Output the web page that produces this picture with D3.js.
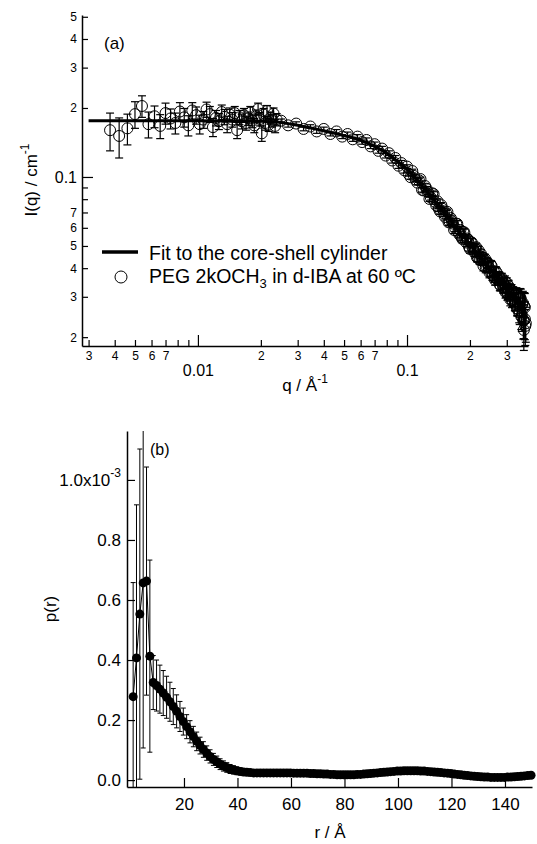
<!DOCTYPE html>
<html>
<head>
<meta charset="utf-8">
<script src="https://cdn.jsdelivr.net/npm/d3@7"></script>
<style>
  body { margin: 0; background: #fff; }
  svg { display: block; }
</style>
</head>
<body>
<svg id="chart" width="537" height="844"></svg>
<script>
// ---- panel (a): SANS curve, detector ranges + fit ----
const lowQ = [0.0038,0.0042,0.0046,0.0050,0.0054,0.0058,0.0062,0.0066,0.0070,0.0074,
  0.0078,0.0082,0.0086,0.0090,0.0094,0.0098,0.0102,0.0106,0.0110,0.0114,
  0.0118,0.0122,0.0126,0.0130,0.0134,0.0138,0.0142,0.0146,0.0150,0.0154,
  0.0158,0.0162,0.0166,0.0170,0.0174,0.0178,0.0182,0.0186,0.0190,0.0194,
  0.0198,0.0202,0.0206,0.0210,0.0214,0.0218,0.0222,0.0226,0.0230,0.0234,0.0238];
const lowI = [0.160,0.151,0.163,0.188,0.204,0.170,0.184,0.167,0.190,0.180,
  0.172,0.193,0.182,0.168,0.195,0.186,0.170,0.178,0.197,0.188,
  0.165,0.181,0.175,0.192,0.183,0.170,0.187,0.178,0.190,0.160,
  0.182,0.175,0.186,0.172,0.180,0.191,0.176,0.168,0.184,0.198,
  0.179,0.155,0.187,0.172,0.194,0.169,0.181,0.176,0.189,0.167,0.178];
const lowErr = [0.030,0.030,0.025,0.025,0.022,0.022,0.020,0.020,0.020,0.018,
  0.018,0.018,0.017,0.017,0.016,0.016,0.016,0.015,0.015,0.015,
  0.015,0.014,0.014,0.014,0.014,0.014,0.013,0.013,0.013,0.013,
  0.013,0.013,0.013,0.012,0.012,0.012,0.012,0.012,0.012,0.012,
  0.012,0.012,0.012,0.012,0.011,0.011,0.011,0.011,0.011,0.011,0.011];

const midQ = [0.025,0.027,0.0295,0.032,0.0345,0.037,0.040,0.043,0.046,0.049,
  0.052,0.055,0.058,0.061,0.064,0.067,0.070,0.073,0.076,0.079,
  0.082,0.085,0.088,0.091,0.094,0.097];
const midI = [0.176,0.168,0.171,0.162,0.166,0.158,0.162,0.154,0.158,0.150,
  0.154,0.146,0.150,0.142,0.145,0.136,0.139,0.130,0.133,0.124,
  0.127,0.118,0.121,0.112,0.115,0.107];
const midErr = [0.003,0.003,0.003,0.003,0.003,0.003,0.003,0.003,0.003,0.003,
  0.003,0.003,0.003,0.003,0.003,0.003,0.003,0.003,0.003,0.003,
  0.003,0.003,0.003,0.003,0.003,0.003];

const highQ = [0.100,0.104,0.108,0.112,0.116,0.120,0.124,0.128,0.132,0.136,
  0.140,0.144,0.148,0.152,0.156,0.160,0.164,0.168,0.172,0.176,
  0.180,0.184,0.188,0.192,0.196,0.200,0.204,0.208,0.212,0.216,
  0.220,0.224,0.228,0.232,0.236,0.240,0.244,0.248,0.252,0.256,
  0.260,0.264,0.268,0.272,0.276,0.280,0.284,0.288,0.292,0.296,
  0.300,0.304,0.308,0.312,0.316,0.320,0.324,0.328,0.332,0.336,
  0.340,0.344,0.348,0.352,0.356,0.360,0.364,0.368,0.362,0.366,0.370];
const highI = [0.111,0.0998,0.101,0.0945,0.0979,0.0873,0.0889,0.0802,0.0849,0.0780,
  0.0783,0.0707,0.0726,0.0669,0.0704,0.0637,0.0640,0.0587,0.0626,0.0574,
  0.0587,0.0536,0.0573,0.0518,0.0532,0.0485,0.0518,0.0481,0.0488,0.0446,
  0.0478,0.0434,0.0448,0.0409,0.0440,0.0407,0.0419,0.0383,0.0412,0.0374,
  0.0388,0.0355,0.0383,0.0355,0.0367,0.0336,0.0362,0.0330,0.0342,0.0314,
  0.0345,0.0310,0.0324,0.0292,0.0321,0.0290,0.0310,0.0279,0.0310,0.0266,
  0.0299,0.0256,0.0296,0.0246,0.0279,0.0236,0.0273,0.0224,0.0215,0.0240,0.0230];
const highErr = [0.002,0.002,0.002,0.002,0.002,0.002,0.002,0.002,0.002,0.002,
  0.002,0.002,0.002,0.002,0.002,0.002,0.002,0.002,0.002,0.002,
  0.002,0.002,0.002,0.002,0.002,0.002,0.002,0.002,0.002,0.002,
  0.002,0.002,0.002,0.002,0.002,0.002,0.002,0.002,0.002,0.002,
  0.0018,0.0018,0.0018,0.0018,0.0018,0.0018,0.0018,0.0018,0.0018,0.0018,
  0.0018,0.0018,0.0018,0.0018,0.0018,0.0018,0.0018,0.0018,0.0018,0.0018,
  0.002,0.0025,0.003,0.003,0.0035,0.004,0.004,0.004,0.004,0.0045,0.004];

// interleaved high-q points (second frame)
const highQ2 = [0.102,0.106,0.110,0.114,0.118,0.122,0.126,0.130,0.134,0.138,
  0.142,0.146,0.150,0.154,0.158,0.162,0.166,0.170,0.174,0.178,
  0.182,0.186,0.190,0.194,0.198,0.202,0.206,0.210,0.214,0.218,
  0.222,0.226,0.230,0.234,0.238,0.242,0.246,0.250,0.254,0.258,
  0.262,0.266,0.270,0.274,0.278,0.282,0.286,0.290,0.294,0.298,
  0.302,0.306,0.310,0.314,0.318,0.322,0.326,0.330,0.334,0.338,
  0.342,0.346,0.350,0.354,0.358,0.362,0.366];
const highI2 = [0.1028,0.1061,0.0972,0.0967,0.0879,0.0913,0.0858,0.0813,0.0842,0.0751,
  0.0726,0.0753,0.0694,0.0694,0.0634,0.0661,0.0626,0.0598,0.0624,0.0561,
  0.0547,0.0574,0.0535,0.0539,0.0495,0.0519,0.0492,0.0470,0.0494,0.0446,
  0.0437,0.0461,0.0431,0.0436,0.0402,0.0423,0.0403,0.0388,0.0408,0.0372,
  0.0366,0.0386,0.0361,0.0366,0.0339,0.0358,0.0343,0.0331,0.0350,0.0318,
  0.0310,0.0334,0.0307,0.0318,0.0289,0.0312,0.0293,0.0280,0.0308,0.0267,
  0.0297,0.0257,0.0294,0.0247,0.0282,0.0237,0.0270];
const highErr2 = [0.002,0.002,0.002,0.002,0.002,0.002,0.002,0.002,0.002,0.002,
  0.002,0.002,0.002,0.002,0.002,0.002,0.002,0.002,0.002,0.002,
  0.002,0.002,0.002,0.002,0.002,0.002,0.002,0.002,0.002,0.002,
  0.002,0.002,0.002,0.002,0.002,0.002,0.002,0.002,0.002,0.002,
  0.002,0.002,0.002,0.002,0.002,0.002,0.002,0.002,0.002,0.002,
  0.002,0.002,0.002,0.002,0.002,0.002,0.002,0.002,0.002,0.002,
  0.0025,0.003,0.003,0.0035,0.0035,0.004,0.004];

const fitQ = [0.003,0.01,0.02,0.025,0.03,0.04,0.05,0.06,0.07,0.08,0.09,0.10,
  0.12,0.14,0.16,0.18,0.20,0.22,0.25,0.28,0.31,0.34,0.37];
const fitI = [0.176,0.176,0.175,0.173,0.168,0.159,0.1515,0.1445,0.136,0.127,0.117,0.108,
  0.090,0.076,0.065,0.057,0.051,0.0455,0.0395,0.035,0.0313,0.0282,0.0253];

const qTicks = [0.003,0.004,0.005,0.006,0.007,0.008,0.009,0.01,0.02,0.03,0.04,0.05,0.06,0.07,0.08,0.09,0.1,0.2,0.3];
const qTickLabels = ["3","4","5","6","7","","","0.01","2","3","4","5","6","7","","","0.1","2","3"];
const qMajor = [0.01, 0.1];
const iTicks = [0.02,0.03,0.04,0.05,0.06,0.07,0.08,0.09,0.1,0.2,0.3,0.4,0.5];
const iTickLabels = ["2","3","4","5","6","7","","","0.1","2","3","4","5"];
const iMajor = [0.1];

// ---- panel (b): pair distance distribution ----
const rVals = [1.0,2.25,3.5,4.75,6.0,7.25,8.5,9.75,11.0,12.25,
  13.5,14.75,16.0,17.25,18.5,19.75,21.0,22.25,23.5,24.75,
  26.0,27.25,28.5,29.75,31.0,32.25,33.5,34.75,36.0,37.25,
  38.5,39.75,41.0,42.25,43.5,44.75,46.0,47.25,48.5,49.75,
  51.0,52.25,53.5,54.75,56.0,57.25,58.5,59.75,61.0,62.25,
  63.5,64.75,66.0,67.25,68.5,69.75,71.0,72.25,73.5,74.75,
  76.0,77.25,78.5,79.75,81.0,82.25,83.5,84.75,86.0,87.25,
  88.5,89.75,91.0,92.25,93.5,94.75,96.0,97.25,98.5,99.75,
  101.0,102.25,103.5,104.75,106.0,107.25,108.5,109.75,111.0,112.25,
  113.5,114.75,116.0,117.25,118.5,119.75,121.0,122.25,123.5,124.75,
  126.0,127.25,128.5,129.75,131.0,132.25,133.5,134.75,136.0,137.25,
  138.5,139.75,141.0,142.25,143.5,144.75,146.0,147.25,148.5,149.75];
// p(r) in units of 1e-3
const pVals = [0.278,0.407,0.553,0.657,0.663,0.413,0.325,0.315,0.303,0.290,
  0.276,0.261,0.245,0.229,0.212,0.195,0.178,0.161,0.145,0.129,
  0.115,0.102,0.090,0.079,0.069,0.061,0.053,0.047,0.042,0.037,
  0.034,0.031,0.029,0.027,0.026,0.025,0.024,0.024,0.024,0.024,
  0.024,0.024,0.024,0.024,0.024,0.024,0.024,0.024,0.023,0.023,
  0.023,0.023,0.023,0.022,0.022,0.021,0.021,0.020,0.020,0.019,
  0.019,0.018,0.018,0.018,0.018,0.018,0.018,0.019,0.019,0.020,
  0.021,0.022,0.023,0.024,0.025,0.026,0.027,0.028,0.029,0.030,
  0.030,0.031,0.031,0.031,0.031,0.031,0.030,0.030,0.029,0.028,
  0.027,0.026,0.025,0.024,0.023,0.022,0.020,0.019,0.018,0.016,
  0.015,0.014,0.013,0.012,0.011,0.010,0.010,0.009,0.009,0.009,
  0.009,0.009,0.010,0.010,0.011,0.012,0.013,0.014,0.015,0.016];
const pErr = [0.38,0.51,0.55,0.55,0.38,0.32,0.09,0.085,0.08,0.075,
  0.07,0.065,0.06,0.055,0.05,0.045,0.04,0.037,0.034,0.031,
  0.028,0.026,0.024,0.022,0.02,0.019,0.018,0.017,0.016,0.015,
  0.014,0.013,0.012,0.011,0.010,0.009,0.009,0.008,0.008,0.008,
  0.008,0.008,0.008,0.008,0.008,0.008,0.008,0.008,0.008,0.008,
  0.008,0.008,0.008,0.008,0.008,0.008,0.008,0.008,0.008,0.008,
  0.008,0.008,0.008,0.008,0.008,0.008,0.008,0.008,0.008,0.008,
  0.008,0.008,0.008,0.008,0.008,0.008,0.008,0.008,0.008,0.008,
  0.008,0.008,0.008,0.008,0.008,0.008,0.008,0.008,0.008,0.008,
  0.008,0.008,0.008,0.008,0.008,0.008,0.008,0.008,0.008,0.008,
  0.008,0.008,0.008,0.008,0.008,0.008,0.008,0.008,0.008,0.008,
  0.008,0.008,0.008,0.008,0.008,0.008,0.008,0.008,0.008,0.008];
const rTicks = [20,40,60,80,100,120,140];
const pTicks = [0,0.2,0.4,0.6,0.8,1.0];
const pTickLabels = ["0.0","0.2","0.4","0.6","0.8","1.0x10"];

const font = '"Liberation Sans", Arial, Helvetica, sans-serif';
const svg = d3.select("#chart").attr("font-family", font);

// ================= panel (a) =================
const xa = d3.scaleLog().domain([0.00279, 0.379]).range([82, 528]);
const ya = d3.scaleLog().domain([0.0183, 0.509]).range([346, 15]);

const gxa = svg.append("g")
  .attr("transform", "translate(0,346)")
  .call(d3.axisBottom(xa).tickValues(qTicks).tickFormat((d, i) => qTickLabels[i])
    .tickSizeInner(-6).tickSizeOuter(0).tickPadding(5));
const gya = svg.append("g")
  .attr("transform", "translate(82,0)")
  .call(d3.axisLeft(ya).tickValues(iTicks).tickFormat((d, i) => iTickLabels[i])
    .tickSizeInner(-6).tickSizeOuter(0).tickPadding(5));

[gxa, gya].forEach(g => {
  g.attr("font-family", font).attr("font-size", 12);
  g.select(".domain").attr("stroke-width", 1.5);
  g.selectAll(".tick line").attr("stroke-width", 1.2);
  g.selectAll(".tick text").attr("fill", "#000");
});
gxa.selectAll(".tick").filter(d => qMajor.includes(d))
  .call(t => t.select("line").attr("y2", -11))
  .call(t => t.select("text").attr("font-size", 16).attr("y", 19));
gya.selectAll(".tick").filter(d => iMajor.includes(d))
  .call(t => t.select("line").attr("x2", 11))
  .call(t => t.select("text").attr("font-size", 16));

function drawSet(q, I, err) {
  const data = q.map((d, i) => ({ q: d, I: I[i], e: err[i] }));
  const g = svg.append("g").attr("stroke", "#000").attr("fill", "none");
  g.selectAll("line.eb").data(data).join("line").attr("class", "eb")
    .attr("x1", d => xa(d.q)).attr("x2", d => xa(d.q))
    .attr("y1", d => ya(d.I - d.e)).attr("y2", d => ya(d.I + d.e)).attr("stroke-width", 1.2);
  [-1, 1].forEach(s => {
    g.selectAll("line.cap" + (s > 0 ? "t" : "b")).data(data).join("line")
      .attr("class", "cap" + (s > 0 ? "t" : "b"))
      .attr("x1", d => xa(d.q) - 4).attr("x2", d => xa(d.q) + 4)
      .attr("y1", d => ya(d.I + s * d.e)).attr("y2", d => ya(d.I + s * d.e))
      .attr("stroke-width", 1.2);
  });
  g.selectAll("circle").data(data).join("circle")
    .attr("cx", d => xa(d.q)).attr("cy", d => ya(d.I)).attr("r", 5.5)
    .attr("stroke-width", 1);
}
drawSet(lowQ, lowI, lowErr);
drawSet(midQ, midI, midErr);
drawSet(highQ, highI, highErr);
drawSet(highQ2, highI2, highErr2);

svg.append("path")
  .datum(fitQ.map((d, i) => [xa(d), ya(fitI[i])]))
  .attr("d", d3.line().curve(d3.curveMonotoneX))
  .attr("fill", "none").attr("stroke", "#000").attr("stroke-width", 3);

svg.append("text").attr("x", 104).attr("y", 49).attr("font-size", 17).text("(a)");

// legend
svg.append("line").attr("x1", 102).attr("x2", 138).attr("y1", 252).attr("y2", 252)
  .attr("stroke", "#000").attr("stroke-width", 3.5);
svg.append("text").attr("x", 149).attr("y", 260).attr("font-size", 19.5)
  .text("Fit to the core-shell cylinder");
svg.append("circle").attr("cx", 121).attr("cy", 277).attr("r", 6)
  .attr("fill", "none").attr("stroke", "#000").attr("stroke-width", 1);
const leg2 = svg.append("text").attr("x", 149).attr("y", 283).attr("font-size", 19.5);
leg2.append("tspan").text("PEG 2kOCH");
leg2.append("tspan").attr("font-size", 13).attr("dy", 5).text("3");
leg2.append("tspan").attr("dy", -5).text(" in d-IBA at 60 ºC");

// axis titles (a)
const qt = svg.append("text").attr("x", 305).attr("y", 391).attr("font-size", 17)
  .attr("text-anchor", "middle");
qt.append("tspan").text("q / Å");
qt.append("tspan").attr("font-size", 12).attr("dy", -8).text("-1");
const it = svg.append("text").attr("transform", "translate(37,180) rotate(-90)")
  .attr("font-size", 17).attr("text-anchor", "middle");
it.append("tspan").text("I(q) / cm");
it.append("tspan").attr("font-size", 12).attr("dy", -8).text("-1");

// ================= panel (b) =================
const xb = d3.scaleLinear().domain([-1.3, 150.1]).range([127, 532]);
const yb = d3.scaleLinear().domain([-0.023, 1.163]).range([787, 431]);

const gxb = svg.append("g")
  .attr("transform", "translate(0,787)")
  .call(d3.axisBottom(xb).tickValues(rTicks).tickSizeInner(-9).tickSizeOuter(0).tickPadding(11));
const gyb = svg.append("g")
  .attr("transform", "translate(127,0)")
  .call(d3.axisLeft(yb).tickValues(pTicks).tickFormat((d, i) => pTickLabels[i])
    .tickSizeInner(-8).tickSizeOuter(0).tickPadding(6));
[gxb, gyb].forEach(g => {
  g.attr("font-family", font).attr("font-size", 17);
  g.select(".domain").attr("stroke-width", 1.5);
  g.selectAll(".tick line").attr("stroke-width", 1.2);
  g.selectAll(".tick text").attr("fill", "#000");
});
// superscript on the top label
gyb.selectAll(".tick").filter(d => d === 1.0).select("text")
  .append("tspan").attr("font-size", 12).attr("dy", "-0.7em").text("-3");

svg.append("clipPath").attr("id", "clipb").append("rect")
  .attr("x", 0).attr("y", 431).attr("width", 537).attr("height", 356);

const pdata = rVals.map((d, i) => ({ r: d, p: pVals[i], e: pErr[i] }));
const gb = svg.append("g").attr("clip-path", "url(#clipb)").attr("stroke", "#000");
gb.selectAll("line.eb").data(pdata).join("line").attr("class", "eb")
  .attr("x1", d => xb(d.r)).attr("x2", d => xb(d.r))
  .attr("y1", d => yb(d.p - d.e)).attr("y2", d => yb(d.p + d.e)).attr("stroke-width", 1);
[-1, 1].forEach(s => {
  gb.selectAll("line.cap" + (s > 0 ? "t" : "b")).data(pdata).join("line")
    .attr("class", "cap" + (s > 0 ? "t" : "b"))
    .attr("x1", d => xb(d.r) - 2.5).attr("x2", d => xb(d.r) + 2.5)
    .attr("y1", d => yb(d.p + s * d.e)).attr("y2", d => yb(d.p + s * d.e))
    .attr("stroke-width", 1);
});
gb.append("path").datum(pdata)
  .attr("d", d3.line().x(d => xb(d.r)).y(d => yb(d.p)))
  .attr("fill", "none").attr("stroke-width", 1);
gb.selectAll("circle").data(pdata).join("circle")
  .attr("cx", d => xb(d.r)).attr("cy", d => yb(d.p)).attr("r", 4.5)
  .attr("fill", "#000").attr("stroke", "none");

svg.append("text").attr("x", 150).attr("y", 455).attr("font-size", 16).text("(b)");

svg.append("text").attr("x", 330).attr("y", 838).attr("font-size", 17)
  .attr("text-anchor", "middle").text("r / Å");
svg.append("text").attr("transform", "translate(56,609) rotate(-90)")
  .attr("font-size", 17).attr("text-anchor", "middle").text("p(r)");
</script>
</body>
</html>
